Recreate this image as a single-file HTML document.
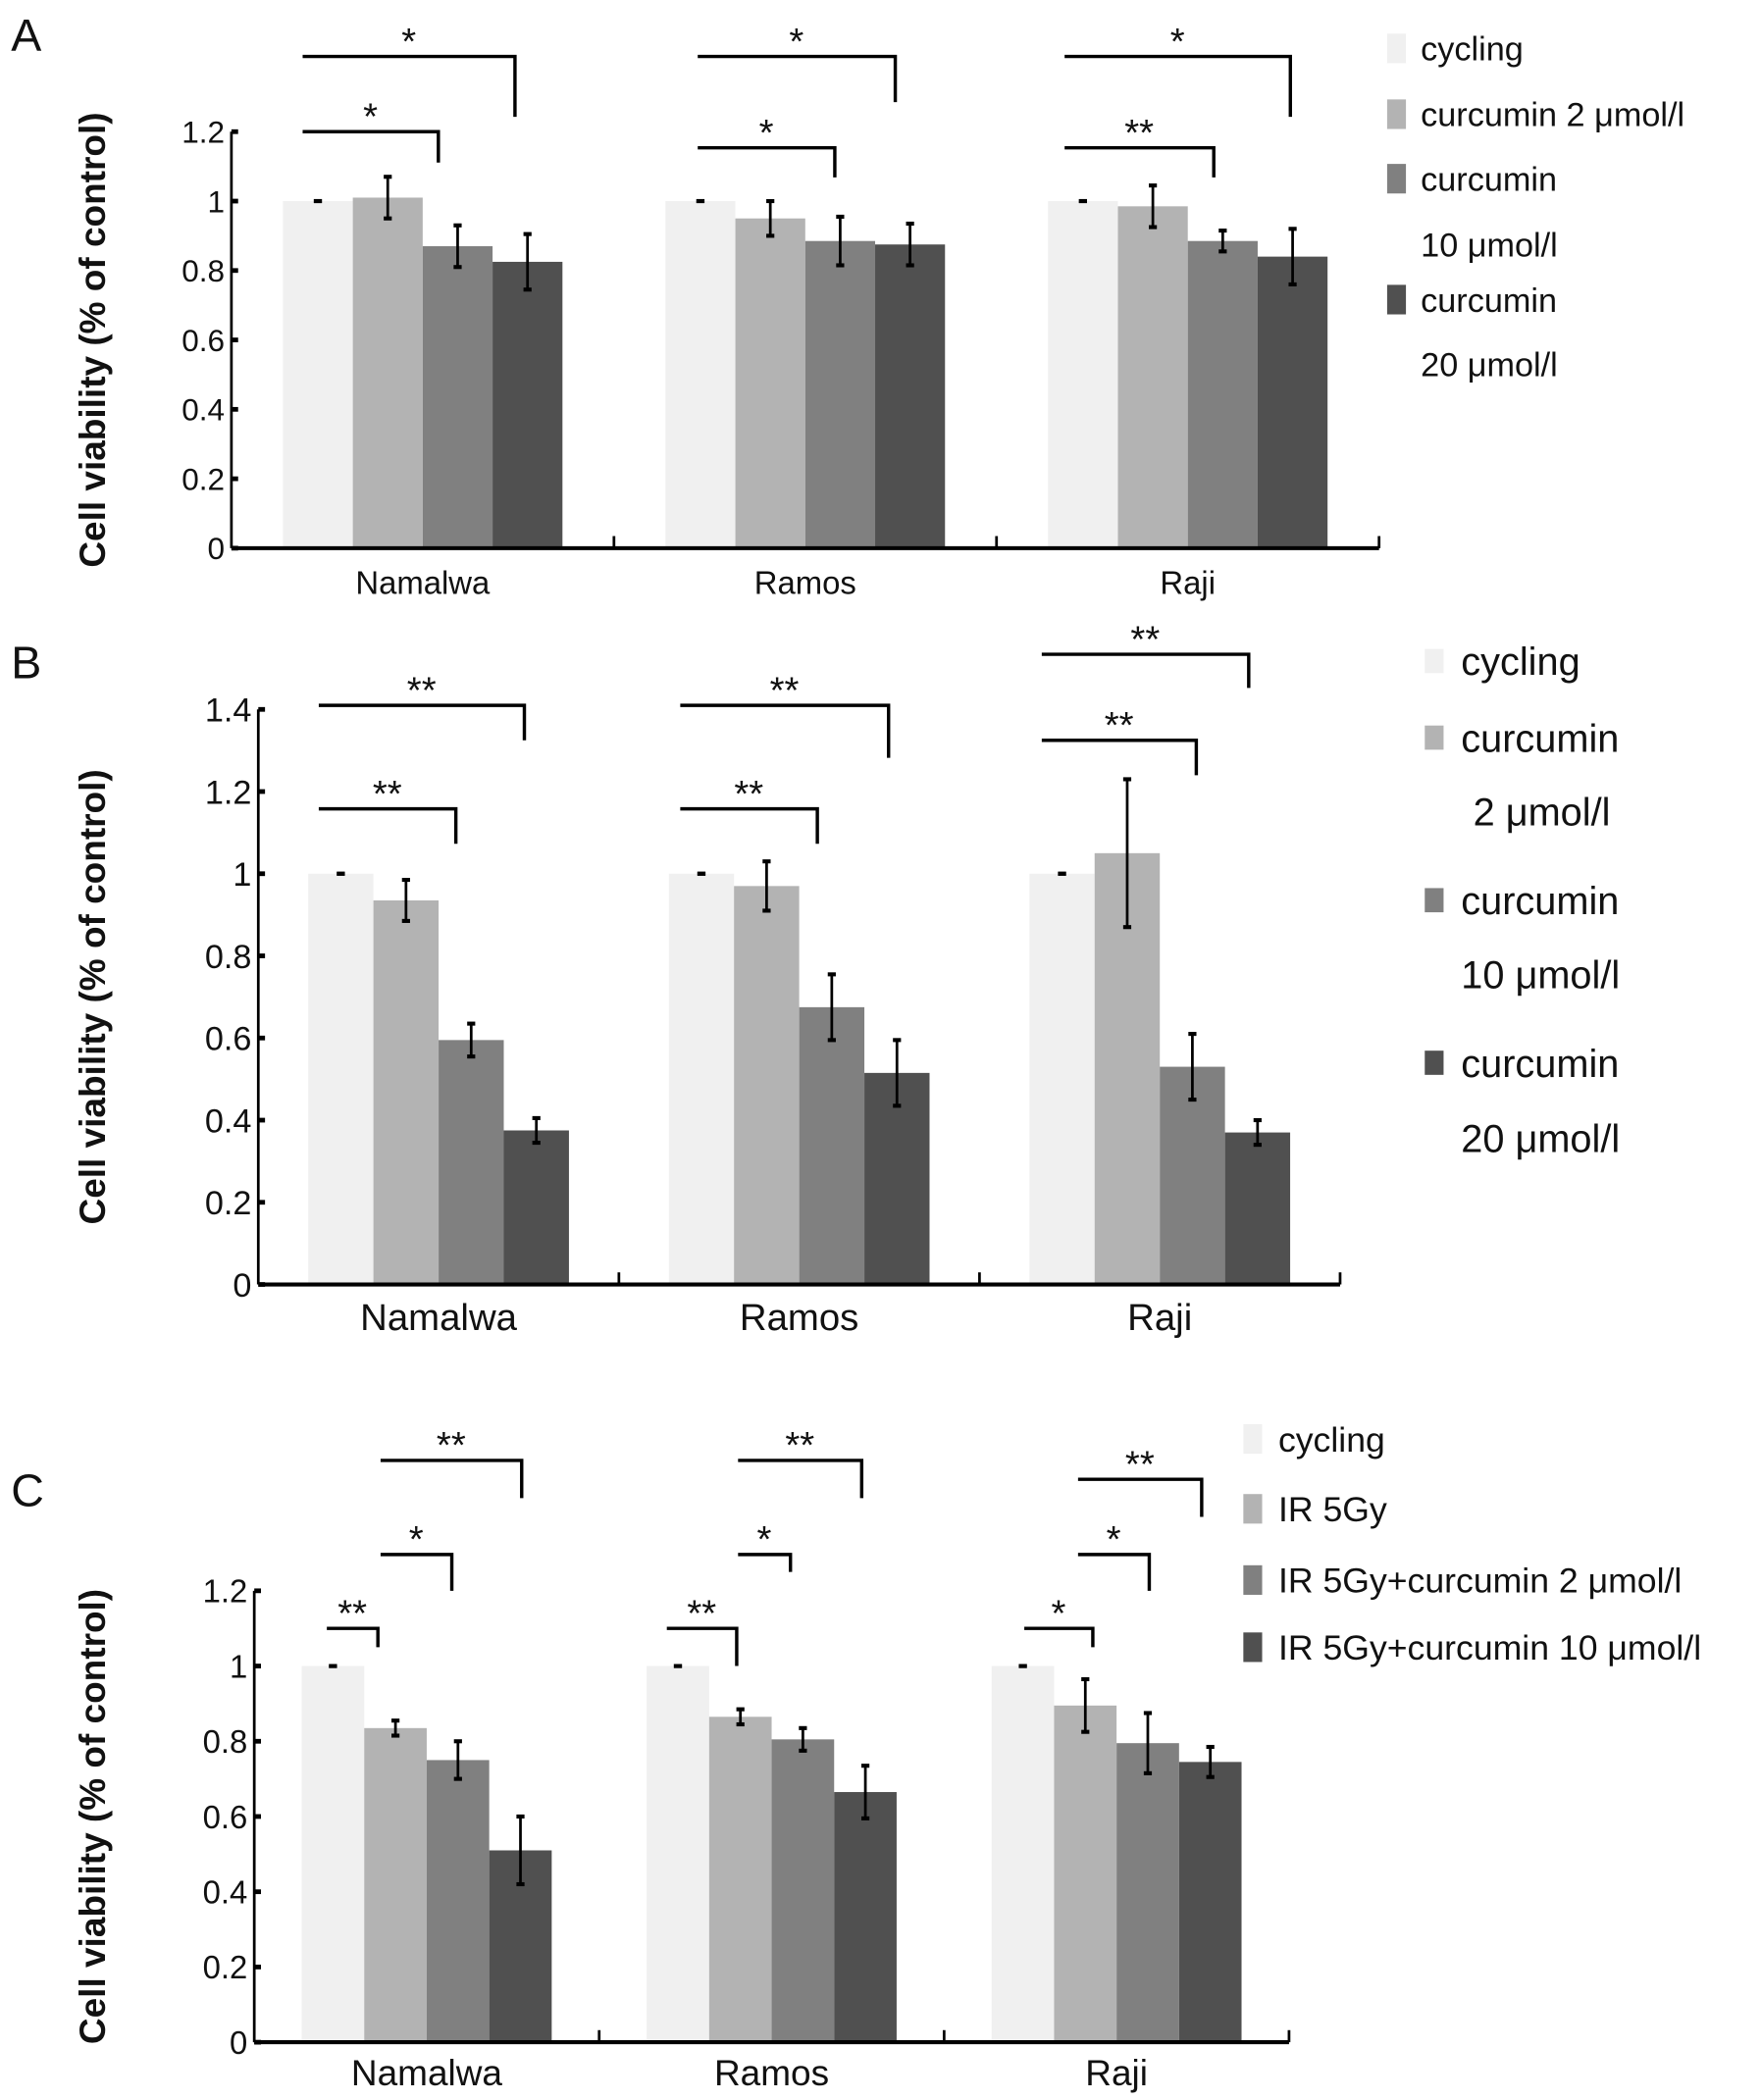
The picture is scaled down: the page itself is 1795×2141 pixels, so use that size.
<!DOCTYPE html>
<html><head><meta charset="utf-8">
<style>
html,body{margin:0;padding:0;background:#fff;}
svg{display:block;font-family:"Liberation Sans",Arial,sans-serif;}
</style></head>
<body>
<svg id="fig" width="1795" height="2141" viewBox="0 0 1310 1563" xmlns="http://www.w3.org/2000/svg"></svg>
<script>
const categories = ["Namalwa","Ramos","Raji"];
const colors = ["#f0f0f0","#b3b3b3","#808080","#505050"];
// Panel A
const aSeries = [[1,1,1],[1.01,0.95,0.985],[0.87,0.885,0.885],[0.825,0.875,0.84]];
const aErr = [[0,0,0],[0.06,0.05,0.06],[0.06,0.07,0.03],[0.08,0.06,0.08]];
const aTicks = ["0","0.2","0.4","0.6","0.8","1","1.2"];
const aLegend = ["cycling","curcumin 2 μmol/l","curcumin","10 μmol/l","curcumin","20 μmol/l"];
// Panel B
const bSeries = [[1,1,1],[0.935,0.97,1.05],[0.595,0.675,0.53],[0.375,0.515,0.37]];
const bErr = [[0,0,0],[0.05,0.06,0.18],[0.04,0.08,0.08],[0.03,0.08,0.03]];
const bTicks = ["0","0.2","0.4","0.6","0.8","1","1.2","1.4"];
const bLegend = ["cycling","curcumin","2 μmol/l","curcumin","10 μmol/l","curcumin","20 μmol/l"];
// Panel C
const cSeries = [[1,1,1],[0.835,0.865,0.895],[0.75,0.805,0.795],[0.51,0.665,0.745]];
const cErr = [[0,0,0],[0.02,0.02,0.07],[0.05,0.03,0.08],[0.09,0.07,0.04]];
const cTicks = ["0","0.2","0.4","0.6","0.8","1","1.2"];
const cLegend = ["cycling","IR 5Gy","IR 5Gy+curcumin 2 μmol/l","IR 5Gy+curcumin 10 μmol/l"];

const NS="http://www.w3.org/2000/svg";
const svg=document.getElementById('fig');
function mk(tag,attrs,parent){const e=document.createElementNS(NS,tag);for(const k in attrs)e.setAttribute(k,attrs[k]);(parent||svg).appendChild(e);return e;}

function panel(cfg){
  const g=mk('g',{});
  
  
  const yMax=(cfg.ticks.length-1)*0.2;
  const y=v=>cfg.y0-(v/yMax)*(cfg.y0-cfg.yTop);
  const gw=(cfg.xEnd-cfg.x0)/categories.length;
  categories.forEach((c,ci)=>{
    const gx=cfg.x0+gw*ci+gw/2-2*cfg.bw;
    cfg.series.forEach((s,si)=>{
      const v=s[ci],x=gx+si*cfg.bw;
      const r=mk('rect',{x:x,y:y(v),width:cfg.bw,height:cfg.y0-y(v),fill:colors[si]},g);
      
      
      const e=cfg.err[si][ci],cx=x+cfg.bw/2;
      const eb=mk('g',{stroke:'#000','stroke-width':2},g);
      
      
      mk('line',{x1:cx,x2:cx,y1:y(v-e),y2:y(v+e)},eb);
      mk('line',{x1:cx-3,x2:cx+3,y1:y(v-e),y2:y(v-e),'stroke-width':3},eb);
      mk('line',{x1:cx-3,x2:cx+3,y1:y(v+e),y2:y(v+e),'stroke-width':3},eb);
    });
    const t=mk('text',{x:cfg.x0+gw*ci+gw/2,y:cfg.labY,'font-size':cfg.xfs,'text-anchor':'middle',fill:'#111'},g);
    t.textContent=c;
    
    
  });
  const ax=mk('g',{stroke:'#000'},g);
  
  
  mk('line',{x1:cfg.x0,x2:cfg.x0,y1:cfg.yTop,y2:cfg.y0,'stroke-width':2},ax);
  mk('line',{x1:cfg.x0,x2:cfg.xEnd,y1:cfg.y0,y2:cfg.y0,'stroke-width':3},ax);
  for(let i=1;i<=categories.length;i++){const xx=cfg.x0+gw*i;mk('line',{x1:xx,x2:xx,y1:cfg.y0,y2:cfg.y0-9,'stroke-width':2},ax);}
  cfg.ticks.forEach((tk,i)=>{
    const yy=y(i*0.2);
    mk('line',{x1:cfg.x0,x2:cfg.x0+5,y1:yy,y2:yy,'stroke-width':3.5},ax);
    const t=mk('text',{x:cfg.x0-5,y:yy+cfg.yfs*0.36,'font-size':cfg.yfs,'text-anchor':'end',fill:'#111'},g);
    t.textContent=tk;
    
    
  });
  const yt=mk('text',{x:0,y:0,'font-size':27,'font-weight':'bold','text-anchor':'middle',fill:'#111',transform:`translate(${cfg.titleX},${(cfg.y0+cfg.yTop)/2}) rotate(-90)`},g);
  yt.textContent='Cell viability (% of control)';
  
  
  cfg.brackets.forEach(b=>{
    const bg=mk('g',{},g);
    
    
    mk('polyline',{points:`${b[0]},${b[2]} ${b[1]},${b[2]} ${b[1]},${b[3]}`,fill:'none',stroke:'#000','stroke-width':2.5},bg);
    const t=mk('text',{x:(b[0]+b[1])/2,y:b[2]-2,'font-size':28,'text-anchor':'middle',fill:'#111'},bg);
    t.textContent=b[4];
  });
  cfg.legend.forEach((l,i)=>{
    const ly=cfg.legY[i];
    const lg=mk('g',{},g);
    
    
    if(cfg.swatch[i]>=0) mk('rect',{x:cfg.legX,y:ly-cfg.sh/2,width:14,height:cfg.sh,fill:colors[cfg.swatch[i]]},lg);
    const t=mk('text',{x:cfg.legTX+(cfg.indent?cfg.indent[i]:0),y:ly+cfg.lfs*0.36,'font-size':cfg.lfs,fill:'#111'},lg);
    t.textContent=l;
  });
  const L=mk('text',{x:8,y:cfg.letterY,'font-size':34,fill:'#111'},g);
  L.textContent=cfg.letter;
  
  
}

panel({name:'panel-a',letter:'A',letterY:38,series:aSeries,err:aErr,ticks:aTicks,x0:172,xEnd:1026,y0:408,yTop:98,bw:52,labY:442,xfs:24,yfs:23,titleX:78,
 brackets:[[225,383,42,87,'*'],[225,326,98,121,'*'],[519,666,42,76,'*'],[519,621,110,132,'*'],[792,960,42,87,'*'],[792,903,110,132,'**']],
 legend:aLegend,legY:[36,85,133,182,223,271],swatch:[0,1,2,-1,3,-1],legX:1032,legTX:1057,sh:22,lfs:25});
panel({name:'panel-b',letter:'B',letterY:505,series:bSeries,err:bErr,ticks:bTicks,x0:192,xEnd:997,y0:956,yTop:528,bw:48.5,labY:990,xfs:28,yfs:25,titleX:78,
 brackets:[[237,390,525,551,'**'],[237,339,602,628,'**'],[506,661,525,564,'**'],[506,608,602,628,'**'],[775,929,487,512,'**'],[775,890,551,577,'**']],
 legend:bLegend,legY:[492,549,604,670,725,791,847],swatch:[0,1,-1,2,-1,3,-1],legX:1060,legTX:1087,indent:[0,0,9,0,0,0,0],sh:18,lfs:29});
panel({name:'panel-c',letter:'C',letterY:1121,series:cSeries,err:cErr,ticks:cTicks,x0:189,xEnd:959,y0:1520,yTop:1184,bw:46.5,labY:1552,xfs:27,yfs:24,titleX:78,
 brackets:[[283,388,1087,1115,'**'],[283,336,1157,1184,'*'],[243,281,1212,1226,'**'],[549,641,1087,1115,'**'],[549,588,1157,1170,'*'],[496,548,1212,1240,'**'],[802,894,1101,1129,'**'],[802,855,1157,1184,'*'],[762,813,1212,1226,'*']],
 legend:cLegend,legY:[1071,1123,1176,1226],swatch:[0,1,2,3],legX:925,legTX:951,sh:22,lfs:26});
</script>
</body></html>
